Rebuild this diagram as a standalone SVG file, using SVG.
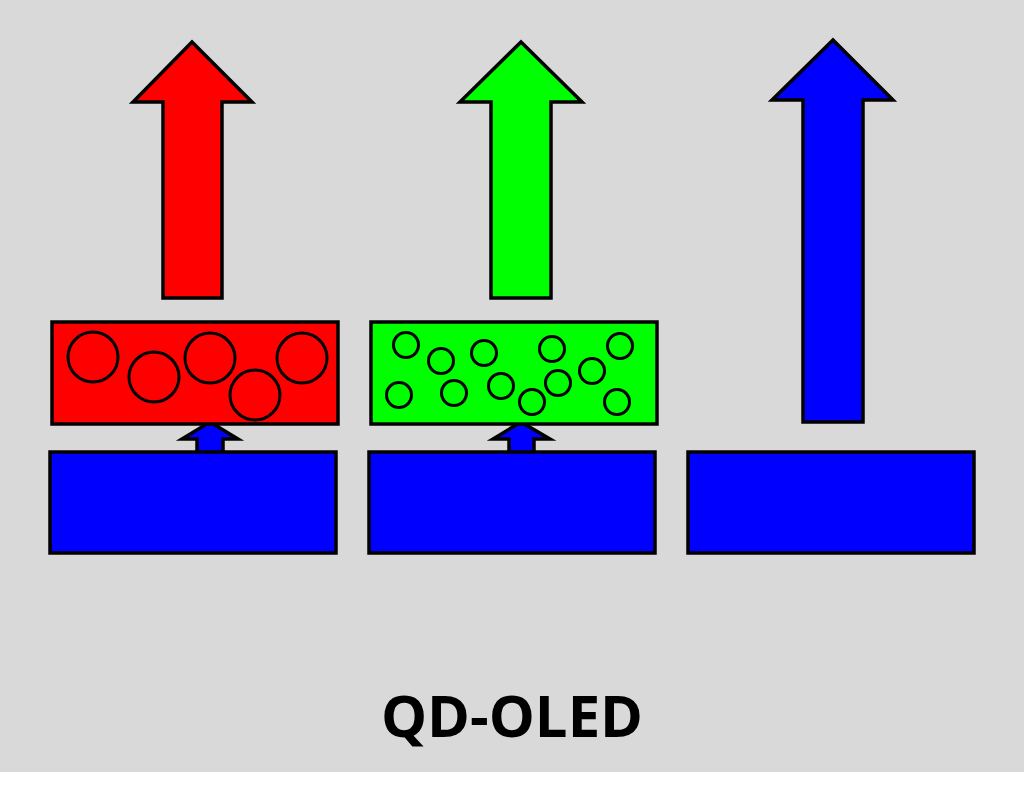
<svg xmlns="http://www.w3.org/2000/svg" width="1024" height="800" viewBox="0 0 1024 800">
<style>
.s{stroke:#000;stroke-width:3.5}
.c{fill:none;stroke:#000;stroke-width:3}
</style>
<rect width="1024" height="800" fill="#fff"/>
<rect width="1024" height="772" fill="#d9d9d9"/>
<g id="connectors">
<polygon class="s" fill="#ff0000" points="192,42 252,102 222,102 222,298 163,298 163,102 133,102"/>
<polygon class="s" fill="#00ff00" points="521,42 582,102 551,102 551,298 491,298 491,102 460,102"/>
<polygon class="s" fill="#0000ff" points="833,40 893,100 863,100 863,422 803,422 803,100 772,100"/>
<polygon class="s" fill="#0000ff" points="210,422 238,439 223,439 223,458 197,458 197,439 182,439"/>
<polygon class="s" fill="#0000ff" points="521,422 550,439 534,439 534,458 509,458 509,439 493,439"/>
</g>
<g id="red-layer">
<rect class="s" x="52" y="322" width="286" height="102" fill="#ff0000"/>
<circle class="c" cx="93" cy="357" r="25"/><circle class="c" cx="154" cy="377" r="25"/>
<circle class="c" cx="210" cy="358" r="25"/><circle class="c" cx="255" cy="395" r="25"/>
<circle class="c" cx="302" cy="358" r="25"/>
</g>
<g id="green-layer">
<rect class="s" x="371" y="322" width="286" height="102" fill="#00ff00"/>
<circle class="c" cx="406" cy="345" r="12.5"/><circle class="c" cx="441" cy="361" r="12.5"/>
<circle class="c" cx="484" cy="353" r="12.5"/><circle class="c" cx="552" cy="349" r="12.5"/>
<circle class="c" cx="620" cy="346" r="12.5"/><circle class="c" cx="399" cy="395" r="12.5"/>
<circle class="c" cx="454" cy="393" r="12.5"/><circle class="c" cx="501" cy="386" r="12.5"/>
<circle class="c" cx="532" cy="402" r="12.5"/><circle class="c" cx="558" cy="383" r="12.5"/>
<circle class="c" cx="592" cy="371" r="12.5"/><circle class="c" cx="617" cy="402" r="12.5"/>
</g>
<g id="oled1"><rect class="s" x="50" y="452" width="286" height="101" fill="#0000ff"/></g>
<g id="oled2"><rect class="s" x="369" y="452" width="286" height="101" fill="#0000ff"/></g>
<g id="oled3"><rect class="s" x="688" y="452" width="286" height="101" fill="#0000ff"/></g>
<text x="512" y="737" text-anchor="middle" font-family="'Open Sans', 'DejaVu Sans', sans-serif" font-weight="bold" font-size="58" fill="#000">QD-OLED</text>
</svg>
